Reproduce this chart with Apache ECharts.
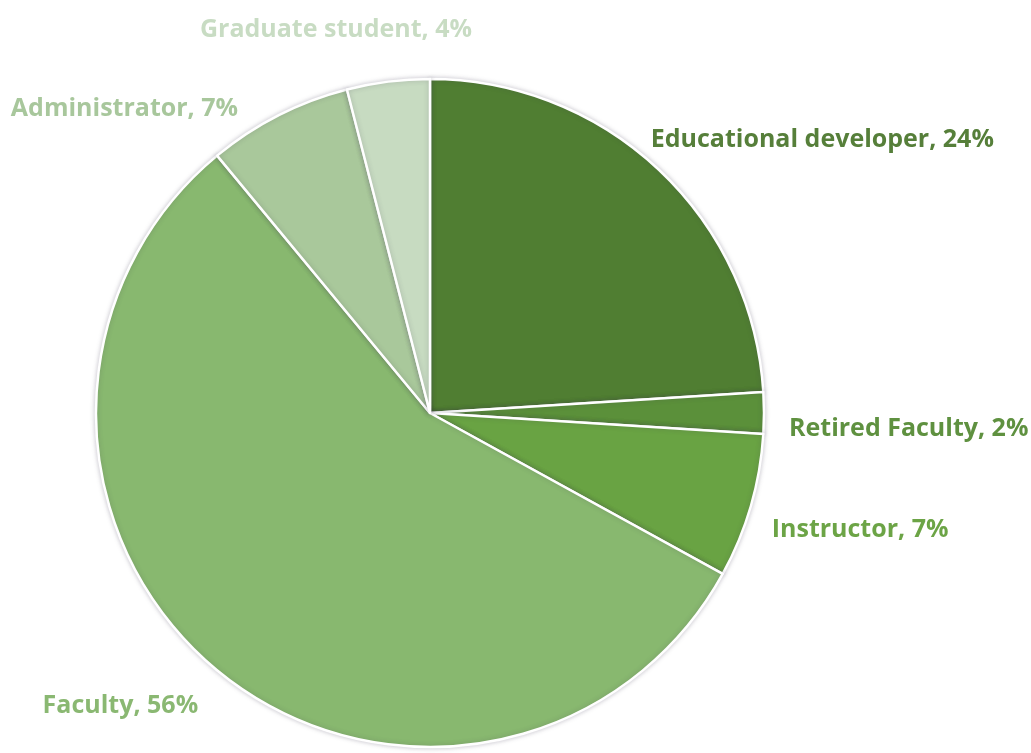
<!DOCTYPE html>
<html>
<head>
<meta charset="utf-8">
<script src="https://cdn.jsdelivr.net/npm/echarts@6/dist/echarts.min.js"></script>
<style>
  html, body { margin: 0; padding: 0; background: #ffffff; }
  #chart { width: 1031px; height: 753px; }
</style>
</head>
<body>
<div id="chart"></div>
<script>
// Respondent roles, share of responses (%)
const roles = ['Educational developer', 'Retired Faculty', 'Instructor', 'Faculty', 'Administrator', 'Graduate student'];
const shares = [24, 2, 7, 56, 7, 4];
const sliceColors = ['#507e32', '#5b903a', '#69a343', '#88b86f', '#a9c89b', '#c7dbc1'];
const labelColors = ['#567f3a', '#5f9140', '#6ca446', '#8ab872', '#a8c79c', '#c8dcc3'];
// nudges applied to each outside label, in pixels
const labelShift = [[-30, -11], [-5, 16], [-8, 17], [2, 16], [-24, 16], [92, -27]];

const chart = echarts.init(document.getElementById('chart'));

const data = roles.map((name, i) => ({
  name: name,
  value: shares[i],
  itemStyle: { color: sliceColors[i] },
  label: { color: labelColors[i] }
}));

chart.setOption({
  animation: false,
  series: [{
    type: 'pie',
    center: [430, 413],
    radius: 334,
    startAngle: 90,
    clockwise: true,
    data: data,
    itemStyle: {
      borderColor: '#ffffff',
      borderWidth: 2.5,
      shadowBlur: 5,
      shadowColor: 'rgba(60,50,80,0.25)'
    },
    label: {
      show: true,
      position: 'outside',
      formatter: '{b}, {d}%',
      fontFamily: 'Open Sans',
      fontWeight: 'bold',
      fontSize: 25,
      overflow: 'none',
      width: 400
    },
    labelLine: { show: false, length: 25, length2: 0 },
    labelLayout: function (params) {
      const s = labelShift[params.dataIndex];
      return { dx: s[0], dy: s[1] };
    }
  }]
});
</script>
</body>
</html>
